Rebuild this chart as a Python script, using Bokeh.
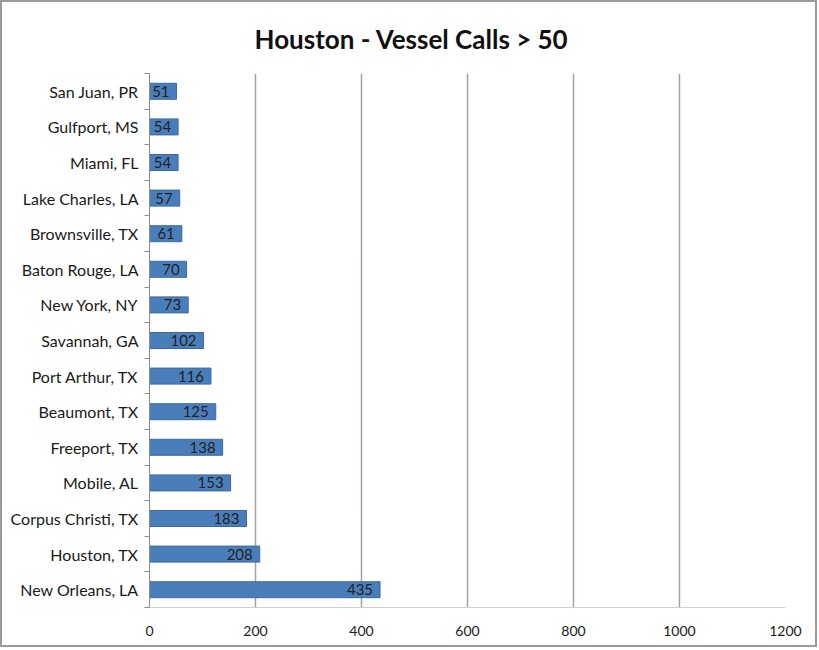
from bokeh.plotting import figure
from bokeh.models import (ColumnDataSource, Range1d, LinearAxis, FixedTicker, LabelSet)
from bokeh.core.properties import value
from bokeh.embed import file_html
from bokeh.resources import INLINE

ports = ["San Juan, PR", "Gulfport, MS", "Miami, FL", "Lake Charles, LA", "Brownsville, TX",
         "Baton Rouge, LA", "New York, NY", "Savannah, GA", "Port Arthur, TX", "Beaumont, TX",
         "Freeport, TX", "Mobile, AL", "Corpus Christi, TX", "Houston, TX", "New Orleans, LA"]
calls = [51, 54, 54, 57, 61, 70, 73, 102, 116, 125, 138, 153, 183, 208, 435]
x_ticks = [0, 200, 400, 600, 800, 1000, 1200]

n = len(ports)
ypos = [n - i - 0.5 for i in range(n)]  # category slots, first port at top
src = ColumnDataSource(dict(y=ypos, port=ports, calls=calls, lab=[str(v) for v in calls]))

p = figure(width=817, height=647, y_range=Range1d(0, n),
           x_range=Range1d(0, 1200), output_backend="svg", toolbar_location=None,
           y_axis_location=None, x_axis_location="below",
           min_border_left=147, min_border_right=34, min_border_top=70, min_border_bottom=42,
           title="Houston - Vessel Calls > 50")
p.styles = {"border": "2px solid #9a9a9a", "box-sizing": "border-box"}

p.title.align = "left"
p.title.text_font = "Lato"
p.title.text_font_size = "26px"
p.title.text_font_style = "bold"
p.title.text_color = "#111111"
p.title.offset = 105
p.title.standoff = 37

p.hbar(y="y", right="calls", left=0, height=0.45, source=src,
       fill_color="#4a7ebb", line_color="#3a6aa5", line_width=1)

labels = LabelSet(x="calls", y="y", text="lab", source=src, x_offset=-7,
                  text_align="right", text_baseline="middle", text_font=value("Lato"),
                  text_font_size="15px", text_color="#222222")
p.add_layout(labels)

# axis with tick marks at the boundaries between categories
bounds = list(range(n + 1))
tick_axis = LinearAxis(ticker=FixedTicker(ticks=bounds),
                       major_label_overrides={b: "" for b in bounds}, major_label_standoff=0,
                       major_tick_out=5, major_tick_in=0, minor_tick_line_color=None,
                       axis_line_color="#8c8c8c", major_tick_line_color="#8c8c8c")
p.add_layout(tick_axis, "left")

# axis carrying the category names
cat_axis = LinearAxis(ticker=FixedTicker(ticks=ypos),
                      major_label_overrides={y: name for y, name in zip(ypos, ports)},
                      axis_line_color=None, major_tick_line_color=None, minor_tick_line_color=None,
                      major_label_standoff=0, major_label_text_font="Lato",
                      major_label_text_font_size="16px", major_label_text_color="#1a1a1a")
p.add_layout(cat_axis, "left")

p.xaxis.ticker = FixedTicker(ticks=x_ticks)
p.xaxis.axis_line_color = "#d0d0d0"
p.xaxis.major_tick_line_color = None
p.xaxis.minor_tick_line_color = None
p.xaxis.major_label_text_font = "Lato"
p.xaxis.major_label_text_font_size = "14px"
p.xaxis.major_label_text_color = "#1a1a1a"
p.xaxis.major_label_standoff = 12

p.xgrid.ticker = FixedTicker(ticks=x_ticks[1:])
p.xgrid.grid_line_color = "#a89f9f"
p.xgrid.grid_line_width = 1.5
p.ygrid.grid_line_color = None
p.outline_line_color = None

open("out.html", "w").write(file_html(p, INLINE))
